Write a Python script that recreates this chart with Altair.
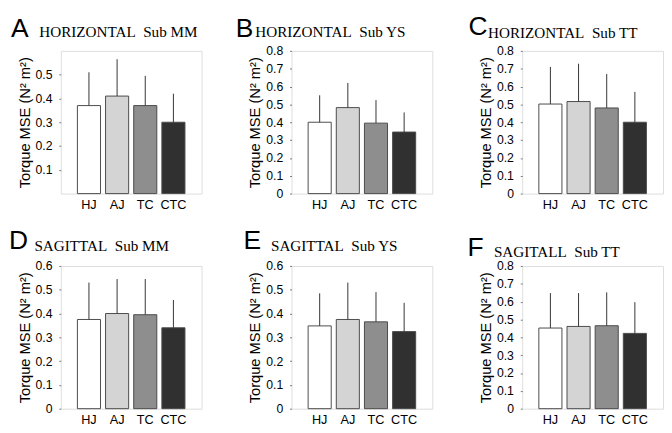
import altair as alt
import pandas as pd

conditions = ["HJ", "AJ", "TC", "CTC"]
panel_letters = ["A", "B", "C", "D", "E", "F"]
panel_titles = ["HORIZONTAL\u00a0 Sub MM", "HORIZONTAL\u00a0 Sub YS", "HORIZONTAL\u00a0 Sub TT",
                "SAGITTAL\u00a0 Sub MM", "SAGITTAL\u00a0 Sub YS", "SAGITALL\u00a0 Sub TT"]

mean_A = [0.37, 0.41, 0.37, 0.30]
top_A = [0.51, 0.565, 0.495, 0.42]
mean_B = [0.40, 0.482, 0.395, 0.345]
top_B = [0.551, 0.62, 0.524, 0.455]
mean_C = [0.502, 0.516, 0.48, 0.40]
top_C = [0.71, 0.728, 0.67, 0.57]
mean_D = [0.375, 0.40, 0.395, 0.34]
top_D = [0.53, 0.545, 0.545, 0.457]
mean_E = [0.348, 0.375, 0.365, 0.324]
top_E = [0.485, 0.53, 0.49, 0.445]
mean_F = [0.452, 0.461, 0.465, 0.422]
top_F = [0.648, 0.648, 0.652, 0.597]

means = [mean_A, mean_B, mean_C, mean_D, mean_E, mean_F]
tops = [top_A, top_B, top_C, top_D, top_E, top_F]

y_max = [0.6, 0.8, 0.8, 0.6, 0.6, 0.8]
ticks_A = [0.1, 0.2, 0.3, 0.4, 0.5]
ticks_06 = [0, 0.1, 0.2, 0.3, 0.4, 0.5, 0.6]
ticks_08 = [0, 0.1, 0.2, 0.3, 0.4, 0.5, 0.6, 0.7, 0.8]
y_ticks = [ticks_A, ticks_08, ticks_08, ticks_06, ticks_06, ticks_08]

bar_fills = ["#ffffff", "#d4d4d4", "#8e8e8e", "#303030"]

# annotation offsets relative to each plot area (style only)
letter_pos = [(-51, -14), (-57, -14), (-55, -16), (-53, -17), (-49, -17), (-56, -10)]
title_pos = [(-22, -14), (-37, -14), (-35, -13), (-27, -15), (-21, -15), (-29, -9)]

W, H = 144, 146


def panel(i):
    df = pd.DataFrame({"cond": conditions, "mean": means[i], "top": tops[i]})
    x = alt.X("cond:N", sort=conditions,
              scale=alt.Scale(paddingInner=0.18, paddingOuter=0.59),
              axis=alt.Axis(title=None, labelAngle=0, domain=False, ticks=False,
                            labelPadding=5, labelFontSize=13))
    yscale = alt.Scale(domain=[0, y_max[i]], nice=False)
    y = alt.Y("mean:Q", scale=yscale,
              axis=alt.Axis(title="Torque MSE (N\u00b2 m\u00b2)", values=y_ticks[i],
                            format="~g", domain=False, tickSize=2, tickColor="#777",
                            labelPadding=7, titlePadding=3, labelFontSize=12.5,
                            labelOverlap=False, labelBound=False, labelFlush=False,
                            titleFontSize=15, titleFontWeight="normal",
                            grid=False))
    base = alt.Chart(df).encode(x=x, y=y)
    bars = base.mark_bar(stroke="#4a4a4a", strokeWidth=1).encode(
        color=alt.Color("cond:N", scale=alt.Scale(domain=conditions, range=bar_fills),
                        legend=None),
    )
    err = base.mark_rule(color="#333333", strokeWidth=1).encode(y2="top:Q")
    lx, ly = letter_pos[i]
    tx, ty = title_pos[i]
    letter = alt.Chart(pd.DataFrame({"t": [panel_letters[i]]})).mark_text(
        font="Liberation Sans", fontSize=27, align="left", baseline="alphabetic",
        color="black").encode(text="t:N", x=alt.value(lx), y=alt.value(ly))
    title = alt.Chart(pd.DataFrame({"t": [panel_titles[i]]})).mark_text(
        font="Liberation Serif", fontSize=15.5, align="left", baseline="alphabetic",
        color="black").encode(text="t:N", x=alt.value(tx), y=alt.value(ty))
    return alt.layer(bars, err, letter, title).properties(width=W, height=H)


chart = alt.concat(*[panel(i) for i in range(6)], columns=3,
                   spacing={"row": 74, "column": 92}, bounds="flush").properties(
    padding=0
).configure_view(stroke="#888888", strokeWidth=1).configure_axis(
    labelFont="Liberation Sans", titleFont="Liberation Sans",
    labelColor="black", titleColor="black"
).configure(background="white")

chart.save("out.html", embed_options={"renderer": "svg", "actions": False})
